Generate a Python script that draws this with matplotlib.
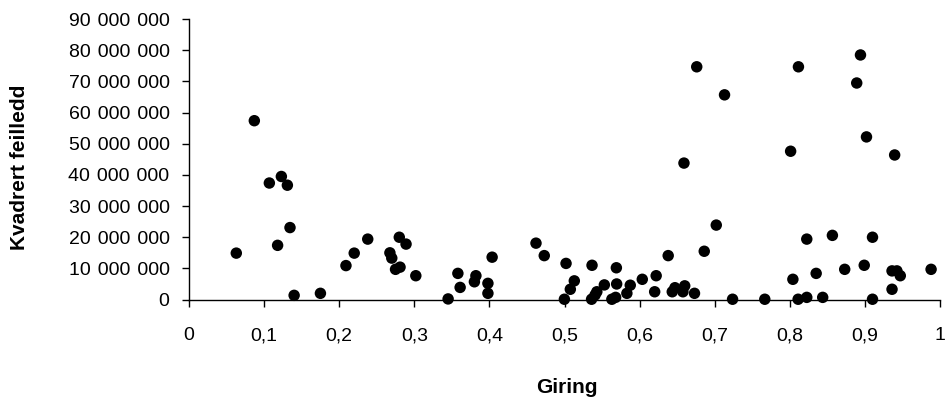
import matplotlib
matplotlib.use("Agg")
import matplotlib.pyplot as plt
from matplotlib.ticker import FuncFormatter, MultipleLocator

plt.rcParams['font.family'] = ['Liberation Sans', 'DejaVu Sans']

# giring (x) og kvadrert feilledd (y)
giring = [0.063, 0.087, 0.107, 0.123, 0.131, 0.1345, 0.118, 0.140, 0.175,
          0.209, 0.220, 0.238, 0.2675, 0.270, 0.275, 0.281, 0.280, 0.289, 0.302,
          0.345, 0.358, 0.361, 0.382, 0.380, 0.398, 0.398, 0.4036, 0.462, 0.473,
          0.4998, 0.502, 0.5077, 0.513, 0.536, 0.5406, 0.543, 0.5366, 0.553,
          0.563, 0.568, 0.5694, 0.569, 0.583, 0.5875, 0.6035, 0.622, 0.620,
          0.638, 0.6434, 0.647, 0.6576, 0.660, 0.659,
          0.673, 0.676, 0.713, 0.702, 0.686, 0.7237, 0.7666, 0.801, 0.8114,
          0.804, 0.811, 0.8225, 0.8225, 0.835, 0.8437, 0.8566, 0.873, 0.889,
          0.894, 0.902, 0.899, 0.910, 0.910, 0.9395, 0.936, 0.9425, 0.947,
          0.936, 0.988]
feilledd = [14.9, 57.4, 37.4, 39.5, 36.7, 23.1, 17.4, 1.35, 2.0,
            10.9, 14.9, 19.4, 15.0, 13.3, 9.7, 10.4, 20.0, 17.8, 7.65,
            0.2, 8.4, 3.9, 7.65, 5.7, 5.2, 2.0, 13.6, 18.1, 14.1,
            0.1, 11.6, 3.3, 6.0, 0.1, 1.45, 2.5, 11.0, 4.7,
            0.1, 0.7, 5.0, 10.2, 2.0, 4.6, 6.5, 7.65, 2.5,
            14.1, 2.5, 3.8, 2.5, 4.4, 43.8,
            2.0, 74.7, 65.7, 23.9, 15.5, 0.1, 0.1, 47.6, 74.7,
            6.5, 0.1, 0.7, 19.4, 8.4, 0.7, 20.6, 9.7, 69.5,
            78.5, 52.2, 11.0, 20.0, 0.1, 46.4, 9.2, 9.2, 7.65,
            3.3, 9.7]
feilledd = [v * 1e6 for v in feilledd]

fig = plt.figure(figsize=(9.52, 4.07), dpi=100)
ax = fig.add_axes([0.1985, 0.264, 0.789, 0.689])

ax.scatter(giring, feilledd, s=68, c='black', edgecolors='none', zorder=3, clip_on=False)

ax.set_xlim(0, 1)
ax.set_ylim(0, 90e6)
ax.xaxis.set_major_locator(MultipleLocator(0.1))
ax.yaxis.set_major_locator(MultipleLocator(10e6))


def fmt_x(v, pos):
    s = ('%.1f' % v).replace('.', ',')
    if s in ('0,0', '1,0'):
        s = s[0]
    return s


def fmt_y(v, pos):
    # tusenskille: mellomrom + hårfint mellomrom
    return '{:,}'.format(int(round(v))).replace(',', ' \u200a')


ax.xaxis.set_major_formatter(FuncFormatter(fmt_x))
ax.yaxis.set_major_formatter(FuncFormatter(fmt_y))

for side in ('top', 'right'):
    ax.spines[side].set_visible(False)
for side in ('left', 'bottom'):
    ax.spines[side].set_linewidth(1.0)

ax.tick_params(axis='both', direction='out', length=5, width=1, labelsize=14)
ax.tick_params(axis='x', pad=15)
ax.tick_params(axis='y', pad=9)

ax.set_xlabel('Giring', fontsize=15, fontweight='bold', va='center')
ax.set_ylabel('Kvadrert feilledd', fontsize=15, fontweight='bold', va='center', ha='center')
ax.xaxis.set_label_coords(0.503, -0.315)
ax.yaxis.set_label_coords(-0.225, 0.47)

fig.savefig('out.png', dpi=100)
